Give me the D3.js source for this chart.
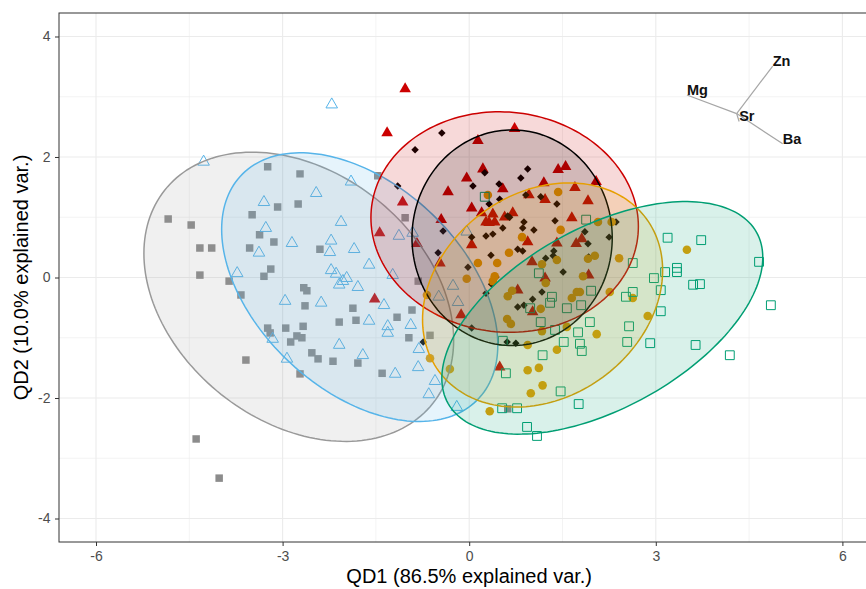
<!DOCTYPE html>
<html>
<head>
<meta charset="utf-8">
<script src="https://cdn.jsdelivr.net/npm/d3@7"></script>
<style>
  body { margin: 0; background: #fff; }
  svg { display: block; }
</style>
</head>
<body>
<div id="chart"></div>
<script>

// groups, in drawing order
const groups = ['grey', 'blue', 'red', 'black', 'orange', 'green'];
const colors = ['#999999', '#56B4E9', '#CC0000', '#000000', '#E69F00', '#009E73'];
const pointColors = ['#8c8c8c', '#56B4E9', '#CC0000', '#000000', '#E69F00', '#009E73'];

// scores [QD1, QD2]
const greyPts = [[-3.24,1.84],[-2.72,1.72],[-1.47,1.69],[-3.08,1.17],[-2.75,1.22],[-3.49,1.04],[-4.84,0.97],[-4.47,0.87],[-3.37,0.71],[-3.14,0.59],[-4.33,0.49],[-4.14,0.49],[-3.53,0.49],[-2.40,0.47],[-1.03,0.99],[-3.19,0.14],[-3.30,0.02],[-4.33,0.04],[-3.86,-0.06],[-3.67,-0.29],[-2.66,-0.17],[-2.61,-0.22],[-2.64,-0.47],[-1.87,-0.51],[-0.82,-0.06],[-0.92,-0.54],[-1.16,-0.66],[-1.82,-0.71],[-2.09,-0.74],[-3.24,-0.84],[-3.20,-0.92],[-2.95,-0.84],[-2.67,-0.81],[-2.77,-0.97],[-2.69,-1.00],[-2.87,-1.07],[-0.97,-1.00],[-2.53,-1.25],[-2.43,-1.35],[-2.19,-1.39],[-1.79,-1.42],[-3.59,-1.37],[-2.72,-1.60],[-1.40,-1.59],[-0.63,-0.96],[-4.39,-2.68],[-4.02,-3.33],[0.62,-2.18]];
const bluePts = [[-4.27,1.92],[-2.21,2.87],[-1.90,1.59],[-2.46,1.40],[-3.30,1.25],[-2.06,0.92],[-3.27,0.82],[-2.85,0.57],[-2.22,0.61],[-3.38,0.41],[-2.24,0.42],[-1.85,0.47],[-1.13,0.69],[-0.91,0.74],[-3.73,0.07],[-1.61,0.21],[-2.22,0.12],[-2.14,0.06],[-1.97,-0.01],[-2.03,-0.06],[-2.09,-0.12],[-1.79,-0.16],[-1.23,0.04],[-2.96,-0.39],[-2.38,-0.42],[-1.37,-0.46],[-1.61,-0.72],[-1.31,-0.81],[-1.31,-0.92],[-0.94,-0.79],[-3.16,-1.02],[-2.09,-1.12],[-1.71,-1.29],[-0.81,-1.19],[-2.93,-1.35],[-0.82,-1.49],[-1.19,-1.60],[-0.65,-1.94],[-0.55,-1.72],[-0.20,-2.15],[-0.04,0.76],[-0.26,-0.14],[-0.49,-0.32],[-0.18,-0.41]];
const redPts = [[-1.03,3.13],[-1.32,2.40],[0.73,2.47],[0.14,2.27],[0.22,1.80],[-0.04,1.65],[1.43,1.79],[1.55,1.84],[-0.34,1.42],[0.54,1.47],[1.20,1.57],[1.70,1.49],[-1.07,1.25],[0.04,1.15],[0.96,1.37],[1.22,1.29],[-0.45,0.96],[0.20,1.07],[0.38,1.05],[0.27,0.92],[0.32,0.91],[0.41,0.92],[0.70,1.07],[0.57,1.00],[-1.44,0.74],[1.65,0.99],[0.94,0.59],[0.04,0.54],[1.41,0.57],[1.72,0.56],[1.81,0.64],[-0.84,0.56],[1.01,0.26],[1.22,-0.01],[-0.47,0.24],[0.78,-0.21],[-1.52,-0.36],[2.04,1.59],[1.91,1.27],[1.02,-0.57],[-0.13,-0.62],[1.92,0.04],[0.49,-1.49]];
const blackPts = [[-0.44,2.40],[-0.87,2.12],[-1.15,1.52],[0.25,1.74],[0.94,1.80],[0.83,1.65],[0.06,1.52],[0.48,1.55],[0.32,1.22],[0.62,1.02],[0.65,1.00],[0.91,1.37],[1.15,1.34],[1.41,1.22],[-0.42,0.77],[0.04,0.67],[0.27,0.69],[0.38,0.72],[0.88,0.92],[1.04,0.79],[1.38,0.94],[1.36,0.44],[1.35,0.36],[1.23,0.32],[0.78,0.47],[0.86,0.44],[0.35,0.37],[-0.50,0.41],[-0.02,0.17],[0.43,0.01],[0.36,-0.11],[1.51,0.09],[0.27,-0.26],[1.17,-0.24],[1.02,-0.36],[0.78,-0.49],[0.88,-0.46],[0.86,0.82],[0.54,0.82],[2.36,0.92],[2.25,0.67],[1.86,0.76],[1.91,0.56],[1.92,0.34],[0.04,-0.84],[0.61,-1.07],[0.75,-1.09],[-0.74,-1.07],[0.49,1.30]];
const orangePts = [[1.43,1.42],[2.07,0.92],[2.29,0.92],[1.47,0.79],[0.85,0.67],[0.64,0.41],[0.14,0.24],[0.45,0.24],[1.41,0.29],[1.17,0.22],[2.02,0.36],[1.91,0.31],[2.41,0.32],[1.83,0.02],[1.23,-0.09],[-0.04,-0.02],[0.38,-0.06],[0.41,0.02],[0.69,-0.22],[0.62,-0.31],[1.65,-0.34],[1.73,-0.24],[1.78,-0.24],[2.26,-0.24],[2.63,-0.34],[1.15,-0.52],[0.61,-0.69],[0.67,-0.77],[1.57,-0.82],[1.17,-0.89],[2.05,-0.94],[2.87,-0.64],[3.50,0.46],[0.94,-1.12],[1.41,-1.20],[-0.63,-1.34],[-0.31,-1.52],[0.94,-1.54],[1.12,-1.50],[1.18,-1.79],[0.99,-1.92],[0.33,-2.22],[-0.68,-0.29],[0.30,1.37]];
const greenPts = [[0.25,1.34],[1.88,0.96],[3.19,0.66],[3.73,0.62],[2.63,0.24],[4.66,0.26],[3.34,0.16],[3.34,0.09],[3.15,0.09],[2.97,-0.01],[1.12,0.07],[1.96,-0.22],[2.63,-0.24],[3.08,-0.21],[2.52,-0.32],[3.60,-0.12],[3.71,-0.11],[1.33,-0.32],[1.30,-0.42],[1.57,-0.51],[1.80,-0.46],[0.98,-0.51],[4.85,-0.46],[3.08,-0.56],[1.15,-0.74],[1.94,-0.74],[1.75,-0.91],[1.38,-0.87],[2.57,-0.81],[1.52,-1.07],[1.78,-1.10],[1.81,-1.22],[2.54,-1.07],[2.91,-1.09],[3.64,-1.12],[4.19,-1.29],[0.54,-1.05],[1.18,-1.29],[0.59,-1.59],[1.47,-1.89],[1.76,-2.10],[0.53,-2.17],[0.77,-2.17],[0.93,-2.48],[1.09,-2.63]];

// normal ellipse per group: centre, spread and correlation
const ellCx = [-2.74, -1.76, 0.57, 0.69, 1.18, 2.14];
const ellCy = [-0.32, -0.16, 0.92, 0.66, -0.29, -0.67];
const ellSx = [2.49, 2.22, 2.15, 1.61, 1.93, 2.58];
const ellSy = [2.40, 2.23, 1.83, 1.79, 1.86, 1.93];
const ellR = [-0.30, -0.43, -0.04, 0.00, 0.22, 0.52];

// variable loadings (drawn from a shifted origin)
const varNames = ['Mg', 'Zn', 'Sr', 'Ba'];
const varX = [3.50, 4.88, 4.34, 5.04];
const varY = [3.03, 3.51, 2.59, 2.22];
const varOrigin = [4.30, 2.72];

const xTicks = [-6, -3, 0, 3, 6];
const xMinor = [-4.5, -1.5, 1.5, 4.5];
const yTicks = [-4, -2, 0, 2, 4];
const yMinor = [-3, -1, 1, 3];

const allPts = [greyPts, bluePts, redPts, blackPts, orangePts, greenPts];

const width = 866, height = 589;
const panel = { left: 59, top: 13, right: 879.4, bottom: 542 };
const font = '"Liberation Sans", Arial, Helvetica, sans-serif';

const x = d3.scaleLinear().domain([-6.595, 6.595]).range([panel.left, panel.right]);
const y = d3.scaleLinear().domain([-4.39, 4.39]).range([panel.bottom, panel.top]);

const svg = d3.select('#chart')
  .append('svg')
  .attr('width', width)
  .attr('height', height);

svg.append('defs').append('clipPath')
  .attr('id', 'clip')
  .append('rect')
  .attr('x', panel.left)
  .attr('y', panel.top)
  .attr('width', panel.right - panel.left)
  .attr('height', panel.bottom - panel.top);

const grid = svg.append('g');
// minor grid
grid.selectAll('.vmin').data(xMinor).enter().append('line')
  .attr('x1', d => x(d)).attr('x2', d => x(d))
  .attr('y1', panel.top).attr('y2', panel.bottom)
  .attr('stroke', '#ebebeb').attr('stroke-width', 0.6);
grid.selectAll('.hmin').data(yMinor).enter().append('line')
  .attr('y1', d => y(d)).attr('y2', d => y(d))
  .attr('x1', panel.left).attr('x2', panel.right)
  .attr('stroke', '#ebebeb').attr('stroke-width', 0.6);
// major grid
grid.selectAll('.vmaj').data(xTicks).enter().append('line')
  .attr('x1', d => x(d)).attr('x2', d => x(d))
  .attr('y1', panel.top).attr('y2', panel.bottom)
  .attr('stroke', '#ebebeb').attr('stroke-width', 1.1);
grid.selectAll('.hmaj').data(yTicks).enter().append('line')
  .attr('y1', d => y(d)).attr('y2', d => y(d))
  .attr('x1', panel.left).attr('x2', panel.right)
  .attr('stroke', '#ebebeb').attr('stroke-width', 1.1);

const plot = svg.append('g').attr('clip-path', 'url(#clip)');

// points
const shapes = [
  { type: d3.symbolSquare, size: 56, fill: true, rot: 0 },
  { type: d3.symbolTriangle, size: 58, fill: false, rot: 0 },
  { type: d3.symbolTriangle, size: 58, fill: true, rot: 0 },
  { type: d3.symbolSquare, size: 28, fill: true, rot: 45 },
  { type: d3.symbolCircle, size: 58, fill: true, rot: 0 },
  { type: d3.symbolSquare, size: 78, fill: false, rot: 0 }
];

allPts.forEach((pts, i) => {
  const s = shapes[i];
  const sym = d3.symbol().type(s.type).size(s.size);
  plot.append('g')
    .selectAll('path')
    .data(pts)
    .enter()
    .append('path')
    .attr('d', sym)
    .attr('transform', d => `translate(${x(d[0])},${y(d[1])}) rotate(${s.rot})`)
    .attr('fill', s.fill ? pointColors[i] : 'none')
    .attr('stroke', s.fill ? 'none' : pointColors[i])
    .attr('stroke-width', 1);
});

// ellipses
const ellLine = d3.line()
  .x(d => x(d[0]))
  .y(d => y(d[1]))
  .curve(d3.curveLinearClosed);

groups.forEach((g, i) => {
  const pts = d3.range(0, 2 * Math.PI, Math.PI / 90).map(t => [
    ellCx[i] + ellSx[i] * Math.cos(t),
    ellCy[i] + ellSy[i] * (ellR[i] * Math.cos(t) + Math.sqrt(1 - ellR[i] * ellR[i]) * Math.sin(t))
  ]);
  plot.append('path')
    .datum(pts)
    .attr('d', ellLine)
    .attr('fill', colors[i])
    .attr('fill-opacity', 0.15)
    .attr('stroke', colors[i])
    .attr('stroke-width', 1.5);
});

// loadings
const vars = plot.append('g');
varNames.forEach((v, i) => {
  vars.append('line')
    .attr('x1', x(varOrigin[0])).attr('y1', y(varOrigin[1]))
    .attr('x2', x(varX[i])).attr('y2', y(varY[i]))
    .attr('stroke', '#a6a6a6')
    .attr('stroke-width', 1.2);
});
varNames.forEach((v, i) => {
  vars.append('text')
    .attr('x', x(varX[i]))
    .attr('y', y(varY[i]))
    .attr('font-family', font)
    .attr('font-weight', 'bold')
    .attr('font-size', '14.5px')
    .attr('fill', '#111')
    .text(v);
});

// panel border
svg.append('rect')
  .attr('x', panel.left)
  .attr('y', panel.top)
  .attr('width', panel.right - panel.left)
  .attr('height', panel.bottom - panel.top)
  .attr('fill', 'none')
  .attr('stroke', '#333')
  .attr('stroke-width', 1);

// axes
const xAxis = svg.append('g')
  .attr('transform', `translate(0,${panel.bottom})`)
  .call(d3.axisBottom(x).tickValues(xTicks).tickFormat(d => String(d)).tickSize(4).tickPadding(5.5).tickSizeOuter(0));
const yAxis = svg.append('g')
  .attr('transform', `translate(${panel.left},0)`)
  .call(d3.axisLeft(y).tickValues(yTicks).tickFormat(d => String(d)).tickSize(4).tickPadding(4.5).tickSizeOuter(0));

[xAxis, yAxis].forEach(a => {
  a.select('.domain').remove();
  a.selectAll('line').attr('stroke', '#333');
  a.selectAll('text')
    .attr('font-family', font)
    .attr('font-size', '14px')
    .attr('fill', '#4d4d4d');
});

svg.append('text')
  .attr('x', (panel.left + panel.right) / 2)
  .attr('y', 583)
  .attr('text-anchor', 'middle')
  .attr('font-family', font)
  .attr('font-size', '20px')
  .attr('fill', '#000')
  .text('QD1 (86.5% explained var.)');

svg.append('text')
  .attr('transform', `translate(28,${(panel.top + panel.bottom) / 2}) rotate(-90)`)
  .attr('text-anchor', 'middle')
  .attr('font-family', font)
  .attr('font-size', '20px')
  .attr('fill', '#000')
  .text('QD2 (10.0% explained var.)');

</script>
</body>
</html>
